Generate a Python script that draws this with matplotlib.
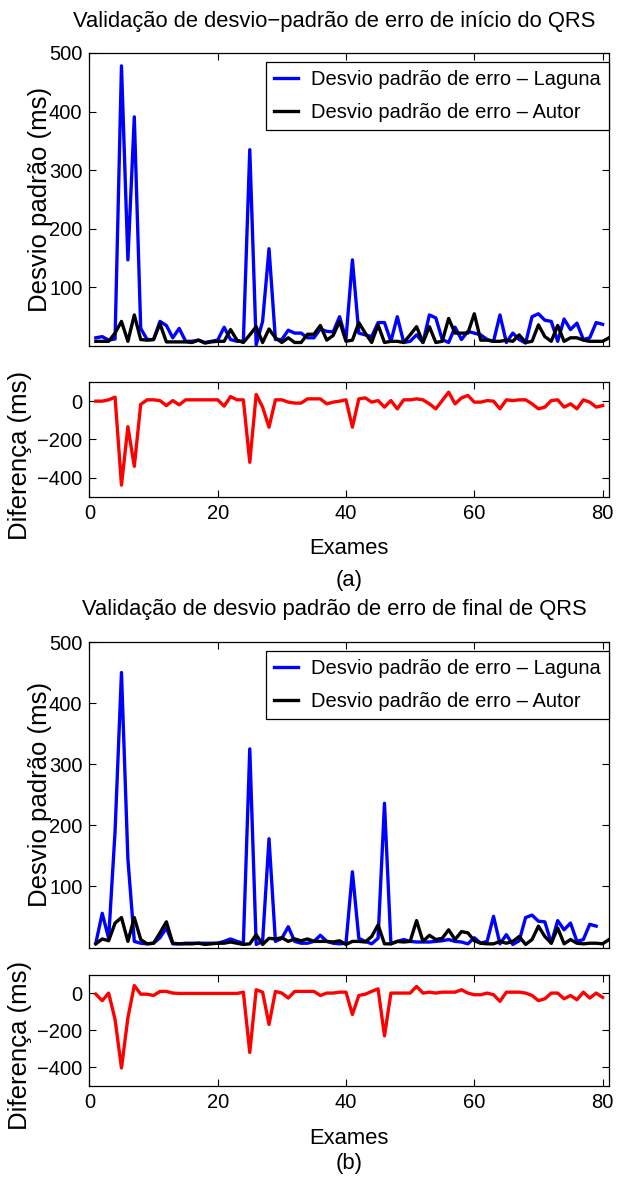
import matplotlib.pyplot as plt
import numpy as np

# --- data (exam index starts at 1) ---
laguna_a = [14, 16, 10, 12, 478, 147, 391, 30, 11, 11, 42, 35, 14, 30, 8, 8, 10, 6, 8, 10,
            32, 11, 8, 8, 335, 2, 42, 166, 11, 11, 27, 22, 22, 14, 14, 29, 25, 24, 50, 12,
            147, 22, 19, 16, 40, 40, 8, 50, 6, 8, 19, 6, 53, 48, 11, 6, 32, 11, 25, 22,
            19, 11, 8, 53, 6, 22, 11, 5, 50, 55, 44, 42, 8, 46, 28, 39, 11, 14, 40, 37]
autor_a = [8, 8, 8, 22, 42, 8, 53, 11, 10, 11, 38, 7, 7, 7, 7, 6, 10, 5, 7, 8,
           8, 28, 10, 6, 19, 33, 6, 29, 14, 6, 14, 6, 6, 20, 20, 35, 10, 18, 42, 8,
           10, 40, 22, 6, 36, 6, 8, 8, 6, 19, 33, 6, 33, 6, 8, 47, 22, 22, 22, 55,
           10, 10, 8, 8, 10, 8, 19, 6, 8, 36, 16, 8, 35, 8, 14, 14, 10, 8, 8, 8, 14]
dif_a = [0, 0, 7, 21, -438, -133, -340, -17, 7, 7, 3, -23, 3, -19, 7, 7, 7, 7, 7, 7,
         -26, 24, 7, 7, -319, 35, -31, -136, 7, 7, -5, -10, -10, 12, 12, 12, -14, -5, 0, 7,
         -136, 12, 17, -5, 3, -31, 3, -40, 7, 7, 12, 7, -14, -40, 3, 47, -14, 17, 30, -5,
         -5, 3, 0, -40, 7, 3, 7, 7, -14, -40, -31, 3, 7, -31, -14, -40, 7, -5, -31, -23]

laguna_b = [7, 56, 15, 190, 450, 145, 10, 7, 6, 7, 16, 32, 6, 6, 7, 7, 7, 7, 7, 7,
            10, 14, 10, 7, 325, 5, 10, 178, 10, 15, 34, 10, 7, 7, 10, 20, 10, 7, 6, 7,
            124, 15, 10, 6, 15, 236, 6, 10, 13, 10, 9, 9, 9, 10, 11, 13, 10, 9, 6, 16,
            7, 10, 51, 6, 21, 5, 11, 49, 53, 43, 42, 7, 44, 29, 40, 10, 13, 38, 35]
autor_b = [6, 14, 11, 40, 49, 10, 49, 13, 6, 7, 24, 42, 7, 6, 6, 6, 7, 5, 6, 7,
           7, 9, 7, 5, 6, 21, 5, 15, 14, 16, 10, 14, 11, 14, 10, 10, 10, 9, 11, 5,
           10, 10, 9, 18, 37, 6, 6, 10, 9, 10, 44, 10, 20, 13, 15, 29, 13, 26, 24, 11,
           7, 6, 6, 10, 7, 10, 18, 5, 13, 35, 18, 7, 32, 6, 13, 7, 6, 7, 7, 6, 13]
dif_b = [-4, -39, 2, -141, -404, -132, 43, -4, -4, -11, 11, 11, 2, 0, 0, 0, 0, 0, 0, 0,
         0, 0, 0, 7, -320, 20, 7, -168, 11, 2, -25, 11, 11, 11, 11, -11, 2, 2, 7, 7,
         -114, -11, -4, 11, 25, -230, 2, 2, 2, 2, 38, 2, 7, 2, 7, 7, 7, 20, 2, -7,
         -7, 2, -7, -43, 7, 7, 7, 2, -11, -39, -29, 2, 2, -29, -11, -34, 7, -25, 2, -21]

plt.rcParams['font.family'] = ['Liberation Sans', 'DejaVu Sans']

W, H = 618, 1186
fig = plt.figure(figsize=(W/100, H/100), dpi=100)

def box(l, t, r, b):
    return [l/W, 1-b/H, (r-l)/W, (b-t)/H]

sz_tick = 14.5
sz_tit = 15.8
sz_ylab = 18.5
lw = 2.4

def style(ax):
    ax.tick_params(direction='in', length=5, width=0.8, top=True, right=True,
                   labelsize=sz_tick, pad=5)
    for s in ax.spines.values():
        s.set_linewidth(0.9)
    ax.set_xlim(0, 81)
    ax.set_xticks([0, 20, 40, 60, 80])

groups = [
    (laguna_a, autor_a, dif_a, (53, 346), (382, 497), 62,
     u'Validação de desvio\u2212padrão de erro de início do QRS', 22, 548, 580, '(a)'),
    (laguna_b, autor_b, dif_b, (642, 947.5), (975, 1085.7), 651,
     u'Validação de desvio padrão de erro de final de QRS', 610, 1138, 1163, '(b)'),
]

for lag, aut, dif, (t1, b1), (t2, b2), legy, title, ty, xly, capy, cap in groups:
    ax = fig.add_axes(box(89.4, t1, 609, b1))
    x_l = np.arange(1, len(lag)+1)
    x_a = np.arange(1, len(aut)+1)
    ax.plot(x_l, lag, color='#0000ff', lw=lw, label=u'Desvio padrão de erro \u2013 Laguna')
    ax.plot(x_a, aut, color='k', lw=lw, label=u'Desvio padrão de erro \u2013 Autor')
    style(ax)
    ax.set_ylim(0, 500)
    ax.set_yticks([100, 200, 300, 400, 500])
    ax.set_xticklabels([])
    ax.set_ylabel(u'Desvio padrão (ms)', fontsize=sz_ylab)
    ax.yaxis.set_label_coords(-0.072, 0.5)
    leg = ax.legend(loc='upper right', bbox_to_anchor=(609/W, 1-legy/H),
                    bbox_transform=fig.transFigure, fontsize=sz_tick, frameon=True,
                    fancybox=False, borderpad=0.4, labelspacing=0.7, handlelength=1.2,
                    handletextpad=0.65, borderaxespad=0)
    leg.get_frame().set_edgecolor('k')
    leg.get_frame().set_linewidth(0.9)
    leg.get_frame().set_alpha(1)

    ax2 = fig.add_axes(box(89.4, t2, 609, b2))
    x_d = np.arange(1, len(dif)+1)
    ax2.plot(x_d, dif, color='#ff0000', lw=lw)
    style(ax2)
    ax2.set_ylim(-500, 100)
    ax2.set_yticks([-400, -200, 0])
    ax2.set_ylabel(u'Diferença (ms)', fontsize=sz_ylab)
    ax2.yaxis.set_label_coords(-0.11, 0.36)

    fig.text(334/W, 1-ty/H, title, ha='center', va='center', fontsize=sz_tit)
    fig.text(349/W, 1-xly/H, 'Exames', ha='center', va='center', fontsize=sz_tit)
    fig.text(349/W, 1-capy/H, cap, ha='center', va='center', fontsize=sz_tit)

fig.savefig('out.png', dpi=100)
